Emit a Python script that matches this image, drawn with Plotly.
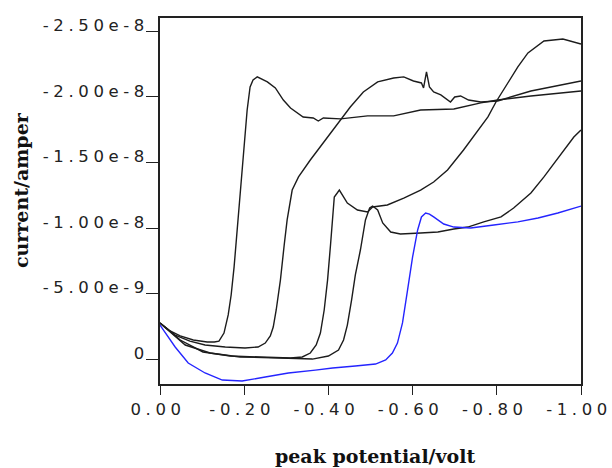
import plotly.graph_objects as go

# potential (V) and current (units of 1e-9 A)
a_x = [0, -0.024, -0.048, -0.079, -0.112, -0.129, -0.140, -0.152, -0.162, -0.169, -0.176, -0.183, -0.190, -0.198,
       -0.207, -0.214, -0.221, -0.231, -0.255, -0.274, -0.293, -0.310, -0.340, -0.364, -0.376, -0.388, -0.429,
       -0.493, -0.555, -0.619, -0.698, -0.762, -0.802, -0.881, -1.000]
a_y = [-2.77, -2.16, -1.78, -1.47, -1.32, -1.32, -1.39, -2.00, -3.38, -4.90, -7.04, -9.86, -12.14, -15.72,
       -19.00, -20.76, -21.29, -21.52, -21.14, -20.68, -19.76, -19.15, -18.47, -18.39, -18.16, -18.39, -18.32,
       -18.55, -18.55, -19.00, -19.08, -19.54, -19.76, -20.07, -20.45]

b_x = [0, -0.036, -0.071, -0.107, -0.155, -0.202, -0.233, -0.250, -0.262, -0.269, -0.276, -0.286, -0.295,
       -0.302, -0.314, -0.329, -0.357, -0.398, -0.429, -0.452, -0.483, -0.517, -0.555, -0.579, -0.602, -0.621,
       -0.626, -0.633, -0.640, -0.650, -0.667, -0.690, -0.700, -0.714, -0.733, -0.762, -0.802, -0.881, -1.000]
b_y = [-2.77, -1.85, -1.39, -1.09, -0.94, -0.86, -0.94, -1.24, -1.78, -2.46, -3.76, -6.04, -8.71,
       -10.62, -12.90, -13.90, -15.19, -16.94, -18.24, -19.23, -20.37, -21.14, -21.44, -21.52, -21.21, -21.06,
       -20.68, -21.90, -20.76, -20.37, -20.15, -19.61, -19.99, -20.07, -19.76, -19.61, -19.69, -20.45, -21.21]

c_x = [0, -0.048, -0.102, -0.167, -0.238, -0.310, -0.338, -0.357, -0.371, -0.381, -0.390, -0.398, -0.405,
       -0.410, -0.414, -0.426, -0.445, -0.469, -0.493, -0.505, -0.540, -0.579, -0.619, -0.650, -0.683, -0.721,
       -0.755, -0.779, -0.798, -0.826, -0.850, -0.874, -0.912, -0.957, -0.981, -1.000]
c_y = [-2.77, -1.47, -0.56, -0.25, -0.18, -0.10, -0.18, -0.48, -1.09, -2.00, -3.76, -6.04, -8.71,
       -11.00, -12.37, -12.90, -11.91, -11.38, -11.23, -11.61, -11.76, -12.29, -12.90, -13.51, -14.43, -15.95,
       -17.48, -18.47, -19.61, -21.06, -22.28, -23.35, -24.26, -24.41, -24.18, -24.03]

d_x = [0, -0.060, -0.119, -0.190, -0.286, -0.362, -0.400, -0.424, -0.436, -0.445, -0.455, -0.464, -0.476,
       -0.488, -0.498, -0.505, -0.517, -0.529, -0.548, -0.571, -0.619, -0.660, -0.698, -0.731, -0.769, -0.810,
       -0.840, -0.881, -0.912, -0.936, -0.960, -0.983, -1.000]
d_y = [-2.77, -1.09, -0.48, -0.18, -0.10, -0.02, -0.25, -0.71, -1.47, -2.61, -4.52, -6.43, -8.33,
       -10.62, -11.53, -11.68, -11.38, -10.39, -9.70, -9.55, -9.63, -9.70, -9.93, -10.08, -10.47, -10.85,
       -11.53, -12.68, -13.90, -14.96, -15.95, -16.94, -17.48]

e_x = [0, -0.036, -0.067, -0.107, -0.148, -0.195, -0.250, -0.305, -0.369, -0.410, -0.464, -0.512, -0.536,
       -0.552, -0.564, -0.576, -0.588, -0.600, -0.612, -0.621, -0.631, -0.640, -0.650, -0.674, -0.698, -0.738,
       -0.793, -0.850, -0.898, -0.945, -1.000]
e_y = [-2.61, -0.94, 0.28, 1.04, 1.58, 1.65, 1.35, 1.04, 0.82, 0.66, 0.51, 0.36, 0.05,
       -0.48, -1.24, -2.77, -5.28, -7.80, -9.86, -10.85, -11.15, -11.07, -10.85, -10.31, -10.08, -10.01,
       -10.24, -10.47, -10.77, -11.15, -11.68]

x_tick_vals = [0, -0.2, -0.4, -0.6, -0.8, -1.0]
x_tick_text = ["0.00", "-0.20", "-0.40", "-0.60", "-0.80", "-1.00"]
y_tick_vals = [0, -5e-9, -1e-8, -1.5e-8, -2e-8, -2.5e-8]
y_tick_text = ["0", "-5.00e-9", "-1.00e-8", "-1.50e-8", "-2.00e-8", "-2.50e-8"]

NANO = 1e-9
SP = "<span style='letter-spacing:4.6px'>{}</span>"

fig = go.Figure()
for xs, ys, col in [(a_x, a_y, "#1c1c1c"), (b_x, b_y, "#1c1c1c"), (c_x, c_y, "#1c1c1c"),
                    (d_x, d_y, "#1c1c1c"), (e_x, e_y, "#2424ff")]:
    fig.add_trace(go.Scatter(x=xs, y=[v * NANO for v in ys], mode="lines",
                             line=dict(color=col, width=1.4), showlegend=False, hoverinfo="skip"))

axis_common = dict(showgrid=False, zeroline=False, showline=True, linecolor="#222", linewidth=1.6,
                   mirror=True, ticks="outside", tickcolor="#222", tickwidth=1.4,
                   ticklabeloverflow="allow", automargin=False,
                   tickfont=dict(family="DejaVu Sans", size=16.5, color="#222"))

fig.update_xaxes(range=[0, -1.0], tickvals=x_tick_vals, ticktext=[SP.format(t) for t in x_tick_text],
                 ticklen=9, ticklabelshift=2, **axis_common)
fig.update_yaxes(range=[1.88e-9, -2.601e-8], tickvals=y_tick_vals, ticktext=[SP.format(t) for t in y_tick_text],
                 ticklen=12, ticklabelshift=6, ticklabelstandoff=-6, **axis_common)

title_font = dict(family="DejaVu Serif", size=19, color="#111", weight="bold")
fig.add_annotation(text="peak potential/volt", xref="paper", yref="paper", x=0.511, y=-0.197,
                   xanchor="center", yanchor="middle", showarrow=False, font=title_font)
fig.add_annotation(text="current/amper", xref="paper", yref="paper", x=-0.330, y=0.530, textangle=-90,
                   xanchor="center", yanchor="middle", showarrow=False, font=title_font)

fig.update_layout(width=612, height=468, margin=dict(l=160, r=31, t=18, b=84),
                  paper_bgcolor="white", plot_bgcolor="white")
fig.write_html("out.html")
